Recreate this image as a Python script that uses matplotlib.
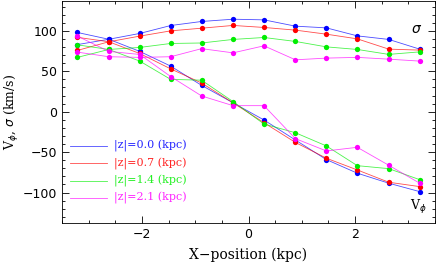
import numpy as np
import matplotlib
matplotlib.use("Agg")
import matplotlib.pyplot as plt
from matplotlib.ticker import MultipleLocator

# bin centres along X (kpc)
x_pos = [-3.21, -2.62, -2.04, -1.46, -0.88, -0.29, 0.29, 0.88, 1.46, 2.04, 2.63, 3.21]

z_labels = ["|z|=0.0 (kpc)", "|z|=0.7 (kpc)", "|z|=1.4 (kpc)", "|z|=2.1 (kpc)"]
colors = ["#0000ff", "#ff0000", "#00ee00", "#ff00ff"]

# rotation velocity V_phi (km/s)
vphi_z00 = [98, 89.6, 74.6, 56.4, 32.6, 11, -10.2, -35, -59.2, -76, -88.4, -98.8]
vphi_z07 = [92, 86.5, 72, 53, 35.5, 11, -13.6, -38, -57.5, -72, -87.2, -92.6]
vphi_z14 = [82.7, 77, 62.6, 40, 39, 12.5, -15.2, -26, -42.3, -66.7, -70.4, -84]
vphi_z21 = [93.5, 74.6, 70.8, 43.5, 19.5, 7.5, 7.5, -33.3, -48.5, -44, -66.2, -88.4]

# dispersion sigma (km/s)
sig_z00 = [83, 89.6, 96.8, 106.6, 111.6, 114.4, 113.6, 105.8, 103.7, 93.8, 89.4, 77.4]
sig_z07 = [75.8, 86.5, 93.5, 100, 103.3, 106.7, 104.2, 100.9, 95.9, 90.1, 77.4, 76.2]
sig_z14 = [67.2, 77, 79.5, 84.4, 85, 89.4, 91.8, 86.9, 80.2, 77, 70.9, 74]
sig_z21 = [73.7, 68, 67.2, 68, 78, 72.8, 81.5, 64.2, 66.3, 67.2, 65, 62.6]

vphi_all = [vphi_z00, vphi_z07, vphi_z14, vphi_z21]
sig_all = [sig_z00, sig_z07, sig_z14, sig_z21]

fig = plt.figure(figsize=(4.36, 2.66), dpi=100)
ax = fig.add_axes([0.142, 0.162, 0.856, 0.836])

for vphi, sig, c in zip(vphi_all, sig_all, colors):
    ax.plot(x_pos, vphi, color=c, lw=0.6, alpha=0.7)
    ax.plot(x_pos, vphi, 'o', color=c, ms=3.8, mec='none')
    ax.plot(x_pos, sig, color=c, lw=0.6, alpha=0.7)
    ax.plot(x_pos, sig, 'o', color=c, ms=3.8, mec='none')

ax.set_xlim(-3.5, 3.5)
ax.set_ylim(-137.5, 137.5)
ax.xaxis.set_major_locator(MultipleLocator(2))
ax.xaxis.set_minor_locator(MultipleLocator(0.5))
ax.yaxis.set_major_locator(MultipleLocator(50))
ax.yaxis.set_minor_locator(MultipleLocator(10))
ax.tick_params(which='both', direction='in', top=True, right=True, width=0.6,
               labelsize=9)
ax.tick_params(which='major', length=5)
ax.tick_params(which='minor', length=2.5)
for s in ax.spines.values():
    s.set_linewidth(0.6)
for lab in ax.get_xticklabels() + ax.get_yticklabels():
    lab.set_family('DejaVu Sans')

ax.set_xlabel("X\u2212position (kpc)", family='DejaVu Serif', fontsize=10, labelpad=5)
ax.set_ylabel(r"V$_\phi$, $\sigma$ (km/s)", family='DejaVu Serif', fontsize=9, labelpad=1)

# legend drawn by hand (lines + coloured text)
leg_y = [-42, -64, -86, -107]
for yy, lab, c in zip(leg_y, z_labels, colors):
    ax.plot([-3.35, -2.65], [yy, yy], color=c, lw=0.6, alpha=0.7)
    ax.text(-2.52, yy, lab, color=c, fontsize=8, family='DejaVu Serif', va='center', alpha=0.85)

ax.text(3.05, 97, r"$\sigma$", fontsize=10, color='black')
ax.text(3.03, -121, r"V$_\phi$", fontsize=9, family='DejaVu Serif', color='black')

fig.savefig("out.png", dpi=100)
